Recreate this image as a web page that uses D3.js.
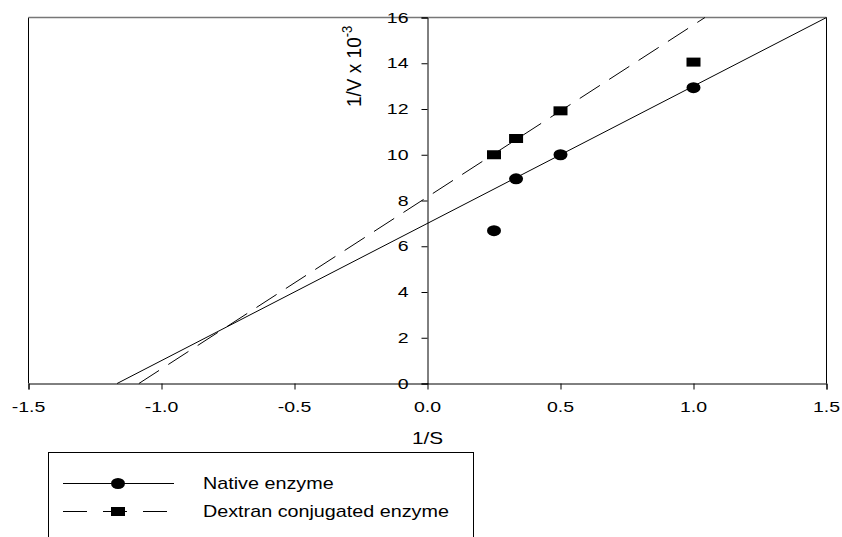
<!DOCTYPE html>
<html>
<head>
<meta charset="utf-8">
<script src="https://cdn.jsdelivr.net/npm/d3@7"></script>
<style>
  body { margin: 0; background: #fff; }
  text { font-family: "Liberation Sans", Arial, sans-serif; fill: #000; }
</style>
</head>
<body>
<svg id="chart" width="842" height="537"></svg>
<script>
// data
const xTicks = [-1.5, -1.0, -0.5, 0.0, 0.5, 1.0, 1.5];
const yTicks = [0, 2, 4, 6, 8, 10, 12, 14, 16];
const invS = [0.25, 0.333, 0.5, 1.0];
const nativeV = [6.68, 8.95, 10.0, 12.93];
const dextranV = [10.0, 10.71, 11.92, 14.05];
// fitted lines, endpoints (x, y)
const nativeFit = [[-1.167, 0], [1.5, 16]];
const dextranFit = [[-1.085, 0], [1.043, 16]];
const seriesNames = ["Native enzyme", "Dextran conjugated enzyme"];

const svg = d3.select('#chart');
const sx = 1.3; // text in the original is a bit wide

const x = d3.scaleLinear().domain([-1.5, 1.5]).range([28.5, 826.5]);
const y = d3.scaleLinear().domain([0, 16]).range([383.5, 17.5]);

function label(parent, px, py, str, anchor, size) {
    const g = parent.append("g").attr("transform", `translate(${px},${py}) scale(${sx},1)`);
    return g.append("text")
        .attr("text-anchor", anchor)
        .attr("dominant-baseline", "central")
        .attr("font-size", size)
        .text(str);
}

// frame: left, top (grey), right
svg.append("line").attr("x1", x(-1.5)).attr("x2", x(-1.5)).attr("y1", y(16)).attr("y2", y(0))
    .attr("stroke", "#000");
svg.append("line").attr("x1", x(1.5)).attr("x2", x(1.5)).attr("y1", y(16)).attr("y2", y(0))
    .attr("stroke", "#000");
svg.append("line").attr("x1", x(-1.5)).attr("x2", x(1.5)).attr("y1", y(16)).attr("y2", y(16))
    .attr("stroke", "#777").attr("stroke-width", 1.5);

// x axis along y = 0
const xAxis = svg.append("g").attr("transform", `translate(0,${y(0)})`)
    .call(d3.axisBottom(x).tickValues(xTicks).tickSize(6).tickFormat(""));
xAxis.select(".domain").attr("stroke", "#000");
xTicks.forEach(t => label(svg, x(t), 407, t.toFixed(1), "middle", 15));

// y axis along x = 0
const yAxis = svg.append("g").attr("transform", `translate(${x(0)},0)`)
    .call(d3.axisLeft(y).tickValues(yTicks).tickSize(6).tickFormat(""));
yAxis.select(".domain").attr("stroke", "#000");
yTicks.forEach(t => label(svg, x(0) - 19, y(t), String(t), "end", 15));

// axis titles
label(svg, x(0), 438, "1/S", "middle", 16);
const yt = svg.append("g").attr("transform", `translate(361,107) rotate(-90) scale(1,1.1)`)
    .append("text").attr("font-size", 19);
yt.append("tspan").text("1/V x 10");
yt.append("tspan").attr("dy", -8).attr("font-size", 13).text("-3");

// fitted lines
const line = d3.line().x(d => x(d[0])).y(d => y(d[1]));
svg.append("path").datum(nativeFit).attr("d", line)
    .attr("fill", "none").attr("stroke", "#000").attr("stroke-width", 1);
svg.append("path").datum(dextranFit).attr("d", line)
    .attr("fill", "none").attr("stroke", "#000").attr("stroke-width", 1)
    .attr("stroke-dasharray", "24,11");

// points
svg.selectAll(".nat").data(invS).enter().append("ellipse")
    .attr("cx", d => x(d)).attr("cy", (d, i) => y(nativeV[i]))
    .attr("rx", 7).attr("ry", 5.5).attr("fill", "#000");
svg.selectAll(".dex").data(invS).enter().append("rect")
    .attr("x", d => x(d) - 7).attr("y", (d, i) => y(dextranV[i]) - 4.5)
    .attr("width", 14).attr("height", 9).attr("fill", "#000");

// legend
const lg = svg.append("g");
lg.append("rect").attr("x", 48.5).attr("y", 452.5).attr("width", 425).attr("height", 100)
    .attr("fill", "#fff").attr("stroke", "#000");
lg.append("line").attr("x1", 63).attr("x2", 174).attr("y1", 483.5).attr("y2", 483.5).attr("stroke", "#000");
lg.append("ellipse").attr("cx", 118).attr("cy", 483.5).attr("rx", 7).attr("ry", 5.5).attr("fill", "#000");
lg.append("line").attr("x1", 63).attr("x2", 174).attr("y1", 511.5).attr("y2", 511.5).attr("stroke", "#000")
    .attr("stroke-dasharray", "24,16");
lg.append("rect").attr("x", 111).attr("y", 507).attr("width", 14).attr("height", 9).attr("fill", "#000");
seriesNames.forEach((s, i) => label(lg, 203, 484 + i * 28, s, "start", 16).attr("transform", "scale(0.95,1)"));
</script>
</body>
</html>
